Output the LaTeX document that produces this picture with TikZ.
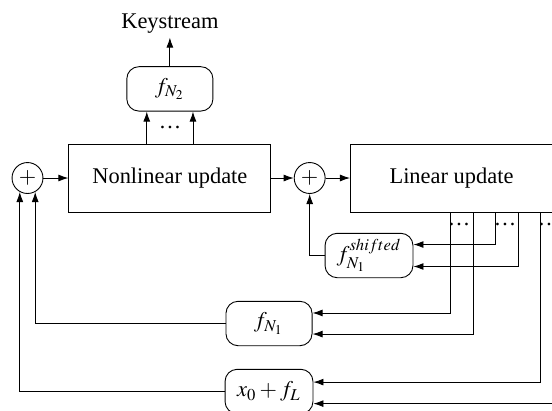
\documentclass[tikz,border=0pt]{standalone}
\usepackage{mathptmx}
\usepackage{fontspec}
\setmainfont{Liberation Serif}
\usetikzlibrary{arrows.meta,positioning}

\begin{document}
\begin{tikzpicture}[
  x=0.446pt, y=-0.446pt,
  font=\normalsize,
  blk/.style={rectangle, draw, minimum width=90.1pt, minimum height=30.3pt, align=center},
  fun/.style={rectangle, draw, rounded corners=5.4pt, minimum width=38.4pt, minimum height=19.8pt, inner sep=1pt},
  xorop/.style={circle, draw, minimum size=13.8pt, inner sep=0pt},
  arr/.style={-{Latex[length=4.5pt,width=3.1pt]}},
  dts/.style={inner sep=0pt}
]
  \useasboundingbox (0,0) rectangle (552,410);
  % main row
  \node[xorop] (x1) at (27.5,178) {$+$};
  \node[blk, right=11.15pt of x1] (nlu) {Nonlinear update};
  \node[xorop, right=10pt of nlu] (x2) {$+$};
  \node[blk, right=10.9pt of x2] (lu) {Linear update};
  \node[fun, above=14.3pt of nlu] (fn2) {$f_{N_2}$};
  \node[above=12.8pt of fn2, inner sep=1.5pt] (ks) {Keystream};
  % filter functions
  \node[fun, minimum width=39.2pt] (fsh) at (369,255.5) {$f_{N_1}^{shifted}$};
  \node[fun] (fn1) at (269,323.5) {$f_{N_1}$};
  \node[fun, minimum width=39.2pt] (fl) at (269,391.5) {$x_0+f_L$};
  \node[dts] (d0) at (170,127) {\ldots};
  \node[dts] (d1) at (459,224) {\ldots};
  \node[dts] (d2) at (505,224) {\ldots};
  \node[dts] (d3) at (549,224) {\ldots};

  \draw[arr] (x1) -- (nlu);
  \draw[arr] (nlu) -- (x2);
  \draw[arr] (x2) -- (lu);
  \draw[arr] (fn2) -- (ks);
  \draw[arr] ([xshift=-10.3pt]nlu.north) -- ([xshift=-10.3pt]fn2.south);
  \draw[arr] ([xshift=10.3pt]nlu.north) -- ([xshift=10.3pt]fn2.south);
  % taps of the linear state
  \draw[arr] (lu.south -| 495,0) |- ([yshift=4.9pt]fsh.east);
  \draw[arr] (lu.south -| 518,0) |- ([yshift=-4.9pt]fsh.east);
  \draw[arr] (lu.south -| 450,0) |- ([yshift=4.7pt]fn1.east);
  \draw[arr] (lu.south -| 473,0) |- ([yshift=-4.7pt]fn1.east);
  \draw[arr] (lu.south -| 540,0) |- ([yshift=4.2pt]fl.east);
  \draw[arr] (lu.east) -- ++(14,0) |- ([yshift=-5.4pt]fl.east);
  % feedback
  \draw[arr] (fsh.west) -| (x2.south);
  \draw[arr] (fn1.west) -| (x1.-61);
  \draw[arr] (fl.west) -| (x1.-119);
\end{tikzpicture}
\end{document}
